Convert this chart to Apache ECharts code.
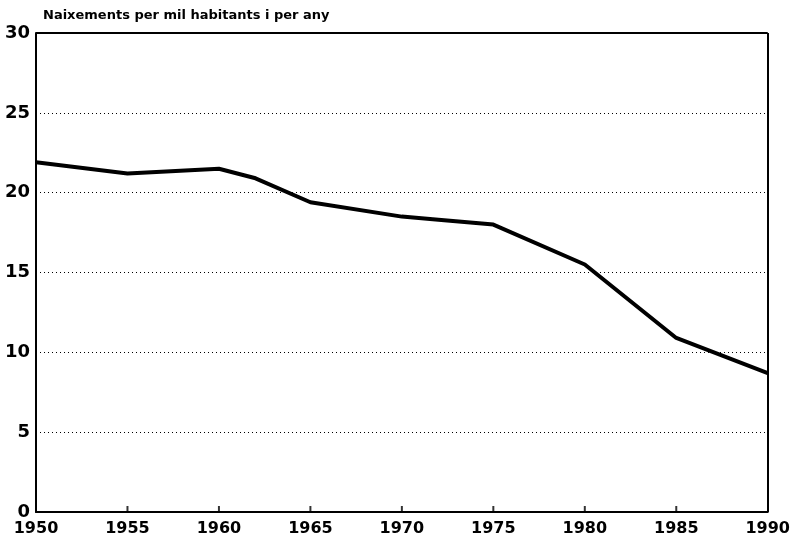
<!DOCTYPE html>
<html>
<head>
    <meta charset="utf-8">
    <title>Naixements</title>
    <script src="https://cdn.jsdelivr.net/npm/echarts@6/dist/echarts.min.js"></script>
</head>
<body style="margin:0;background-color:#fff;">
    <div id="main" style="width:793px;height:543px;"></div>
    <script type="text/javascript">
        // anys i taxa de natalitat
        var years = [1950, 1955, 1960, 1962, 1965, 1970, 1972, 1975, 1980, 1985, 1990];
        var rates = [21.9, 21.2, 21.5, 20.9, 19.4, 18.5, 18.3, 18.0, 15.5, 10.9, 8.7];
        var tickYears = [1955, 1960, 1965, 1970, 1975, 1980, 1985];
        var titleText = 'Naixements per mil habitants i per any';

        var myChart = echarts.init(document.getElementById('main'));

        var points = [];
        for (let i = 0; i < years.length; i++) {
            points.push([years[i], rates[i]]);
        }
        var ticks = tickYears.map(function (y) { return [y, 0]; });

        var font = 'DejaVu Sans';

        var option = {
            backgroundColor: '#fff',
            animation: false,
            title: {
                text: titleText,
                left: 38,
                top: 4,
                textStyle: { fontFamily: font, fontWeight: 'bold', fontSize: 13, color: '#000' }
            },
            grid: { left: 36, right: 25, top: 33, bottom: 31 },
            xAxis: {
                type: 'value',
                min: 1950,
                max: 1990,
                interval: 5,
                axisLine: { show: true, lineStyle: { color: '#000', width: 2 } },
                axisTick: { show: false },
                axisLabel: {
                    margin: 9,
                    color: '#000',
                    fontFamily: font,
                    fontWeight: 'bold',
                    fontSize: 16,
                    formatter: function (v) { return v; }
                },
                splitLine: { show: false }
            },
            yAxis: {
                type: 'value',
                min: 0,
                max: 30,
                interval: 5,
                axisLine: { show: true, lineStyle: { color: '#000', width: 2 } },
                axisTick: { show: false },
                axisLabel: {
                    margin: 6,
                    color: '#000',
                    fontFamily: font,
                    fontWeight: 'bold',
                    fontSize: 18
                },
                splitLine: { show: true, lineStyle: { color: '#000', type: [1, 3], width: 1 } }
            },
            series: [
                {
                    type: 'line',
                    data: points,
                    symbol: 'none',
                    lineStyle: { color: '#000', width: 4 }
                },
                {
                    // petites marques de l'eix X
                    type: 'scatter',
                    data: ticks,
                    symbol: 'rect',
                    symbolSize: [2, 6],
                    symbolOffset: [0, -3],
                    itemStyle: { color: '#000' },
                    silent: true
                },
                {
                    // marc del gràfic
                    type: 'line',
                    data: [],
                    markLine: {
                        silent: true,
                        symbol: 'none',
                        label: { show: false },
                        lineStyle: { color: '#000', width: 2, type: 'solid' },
                        data: [
                            [{ coord: [1950, 30] }, { coord: [1990, 30] }],
                            [{ coord: [1990, 0] }, { coord: [1990, 30] }]
                        ]
                    }
                }
            ]
        };
        myChart.setOption(option);
    </script>
</body>
</html>
